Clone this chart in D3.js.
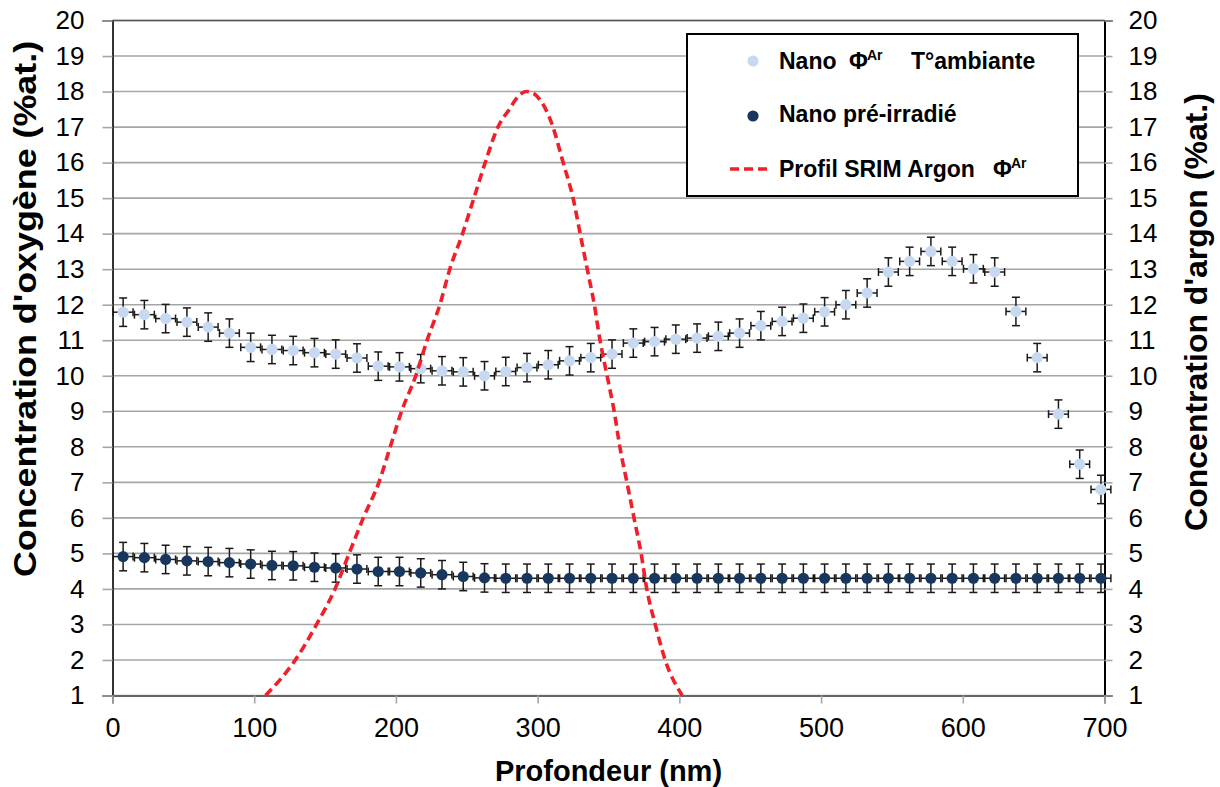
<!DOCTYPE html>
<html><head><meta charset="utf-8">
<script src="https://cdn.jsdelivr.net/npm/d3@7"></script>
<style>
body{margin:0;background:#fff;}
svg text{font-family:"Liberation Sans",Arial,sans-serif;}
</style></head>
<body><svg id="chart" width="1220" height="787"></svg>
<script>
// ---- data ----
const depthStart = 7.5, depthStep = 15; // nm
const nanoAmbiante = [11.79,11.72,11.61,11.51,11.37,11.20,10.80,10.74,10.71,10.65,10.61,10.50,10.27,10.25,10.20,10.14,10.11,10.00,10.12,10.23,10.31,10.42,10.51,10.61,10.92,10.96,11.03,11.06,11.11,11.20,11.41,11.53,11.62,11.80,12.00,12.33,12.92,13.22,13.50,13.22,13.01,12.92,11.81,10.51,8.92,7.51,6.80];
const nanoPreIrradie = [4.91,4.88,4.83,4.79,4.77,4.74,4.70,4.66,4.65,4.61,4.59,4.56,4.49,4.49,4.45,4.40,4.35,4.31,4.30,4.30,4.30,4.30,4.30,4.30,4.30,4.30,4.30,4.30,4.30,4.30,4.30,4.30,4.30,4.30,4.30,4.30,4.30,4.30,4.30,4.30,4.30,4.30,4.30,4.30,4.30,4.30,4.30];
const errY = 0.4, errX = 7;
const srimDepth = [108,129,144,157,167,177,188,196,204,214,222,231,238,247,255,263,272,280,286,292,297,302,310,318,325,330,335,340,344,349,354,358,363,368,373,377,383,390,402];
const srimConc  = [1.0,2.0,3.0,4.0,5.0,6.0,7.0,8.0,9.0,10.0,11.0,12.0,13.0,14.0,15.0,16.0,17.0,17.5,17.85,18.0,17.95,17.75,17.1,16.0,15.0,14.0,13.0,12.0,11.0,10.0,9.0,8.0,7.0,6.0,5.0,4.0,3.0,2.0,1.0];
const xTicks = [0,100,200,300,400,500,600,700];
const yTicks = d3.range(1,21);

// ---- layout ----
const svg = d3.select("#chart");
const L = 112.5, R = 1104.5, T = 20.5, B = 695.5;
const x = d3.scaleLinear().domain([0,700]).range([L,R]);
const y = d3.scaleLinear().domain([1,20]).range([B,T]);
const yR = d3.scaleLinear().domain([1,20]).range([B,T]);

// gridlines
svg.append("g").selectAll("line").data(yTicks).join("line")
  .attr("x1",L).attr("x2",R).attr("y1",d=>y(d)).attr("y2",d=>y(d))
  .attr("stroke","#a6a6a6").attr("stroke-width",1.6);

// axes
const axL = d3.axisLeft(y).tickValues(yTicks).tickSize(10).tickPadding(18).tickFormat(d3.format("d"));
const axR = d3.axisRight(yR).tickValues(yTicks).tickSize(8).tickPadding(16).tickFormat(d3.format("d"));
const axB = d3.axisBottom(x).tickValues(xTicks).tickSize(8).tickPadding(14).tickFormat(d3.format("d"));
function style(g, col){
  g.select(".domain").attr("stroke",col).attr("stroke-width",2);
  g.selectAll(".tick line").attr("stroke","#a6a6a6").attr("stroke-width",1.6);
  g.selectAll(".tick text").attr("fill","#000").style("font-family","'Liberation Sans',Arial,sans-serif");
}
const gL = svg.append("g").attr("transform",`translate(${L},0)`).call(axL);
style(gL,"#333"); gL.selectAll(".tick text").style("font-size","26px");
const gR = svg.append("g").attr("transform",`translate(${R},0)`).call(axR);
style(gR,"#000"); gR.selectAll(".tick text").style("font-size","26px");
const gB = svg.append("g").attr("transform",`translate(0,${B})`).call(axB);
style(gB,"#666"); gB.selectAll(".tick text").style("font-size","27px");
// top border
svg.append("line").attr("x1",L).attr("x2",R).attr("y1",T).attr("y2",T).attr("stroke","#555").attr("stroke-width",1.6);

// titles
svg.append("text").attr("transform",`translate(${x(350)},781)`).attr("text-anchor","middle")
  .style("font-size","29px").style("font-weight","bold").text("Profondeur (nm)");
svg.append("text").attr("transform",`translate(36,309) rotate(-90) scale(1.12,1)`).attr("text-anchor","middle")
  .style("font-size","32px").style("font-weight","bold").text("Concentration d'oxygène (%at.)");
svg.append("text").attr("transform",`translate(1207,312) rotate(-90)`).attr("text-anchor","middle")
  .style("font-size","32px").style("font-weight","bold").text("Concentration d'argon (%at.)");

// series
function drawSeries(vals, fill){
  const data = vals.map((v,i)=>({d: depthStart + depthStep*i, v}));
  const g = svg.append("g");
  const eb = g.append("g").attr("stroke","#1a1a1a").attr("stroke-width",1.5);
  data.forEach(p=>{
    const cx = x(p.d), cy = y(p.v);
    const y1 = y(p.v+errY), y2 = y(p.v-errY);
    const x1 = x(p.d-errX), x2 = x(p.d+errX);
    eb.append("line").attr("x1",cx).attr("x2",cx).attr("y1",y1).attr("y2",y2);
    eb.append("line").attr("x1",cx-4).attr("x2",cx+4).attr("y1",y1).attr("y2",y1);
    eb.append("line").attr("x1",cx-4).attr("x2",cx+4).attr("y1",y2).attr("y2",y2);
    eb.append("line").attr("x1",x1).attr("x2",x2).attr("y1",cy).attr("y2",cy);
    eb.append("line").attr("x1",x1).attr("x2",x1).attr("y1",cy-4).attr("y2",cy+4);
    eb.append("line").attr("x1",x2).attr("x2",x2).attr("y1",cy-4).attr("y2",cy+4);
  });
  g.append("g").selectAll("circle").data(data).join("circle")
    .attr("cx",p=>x(p.d)).attr("cy",p=>y(p.v)).attr("r",5.6).attr("fill",fill);
}
drawSeries(nanoAmbiante, "#c6d9f0");
drawSeries(nanoPreIrradie, "#17375e");

// SRIM profile
const line = d3.line().x(d=>x(d[0])).y(d=>yR(d[1])).curve(d3.curveMonotoneX);
svg.append("path").datum(srimDepth.map((d,i)=>[d,srimConc[i]]))
  .attr("d",line).attr("fill","none").attr("stroke","#f0202a").attr("stroke-width",3.6)
  .attr("stroke-dasharray","9,5");

// legend
const lg = svg.append("g");
lg.append("rect").attr("x",687).attr("y",34).attr("width",391).attr("height",162)
  .attr("fill","#fff").attr("stroke","#000").attr("stroke-width",2);
lg.append("circle").attr("cx",753).attr("cy",61).attr("r",5.6).attr("fill","#c6d9f0");
lg.append("circle").attr("cx",753).attr("cy",116).attr("r",5.6).attr("fill","#17375e");
lg.append("line").attr("x1",730).attr("x2",771).attr("y1",169).attr("y2",169)
  .attr("stroke","#f0202a").attr("stroke-width",3.6).attr("stroke-dasharray","9,5");
const lt = (xx,yy,txt,size)=>lg.append("text").attr("x",xx).attr("y",yy)
  .style("font-size",size+"px").style("font-weight","bold").text(txt);
lt(779,69,"Nano",23); lt(849,69,"Φ",23); lt(867,60,"Ar",14); lt(911,69,"T°ambiante",23);
lt(779,122,"Nano pré-irradié",23);
lt(779,177,"Profil SRIM Argon",23); lt(993,177,"Φ",23); lt(1011,168,"Ar",14);
</script></body></html>
